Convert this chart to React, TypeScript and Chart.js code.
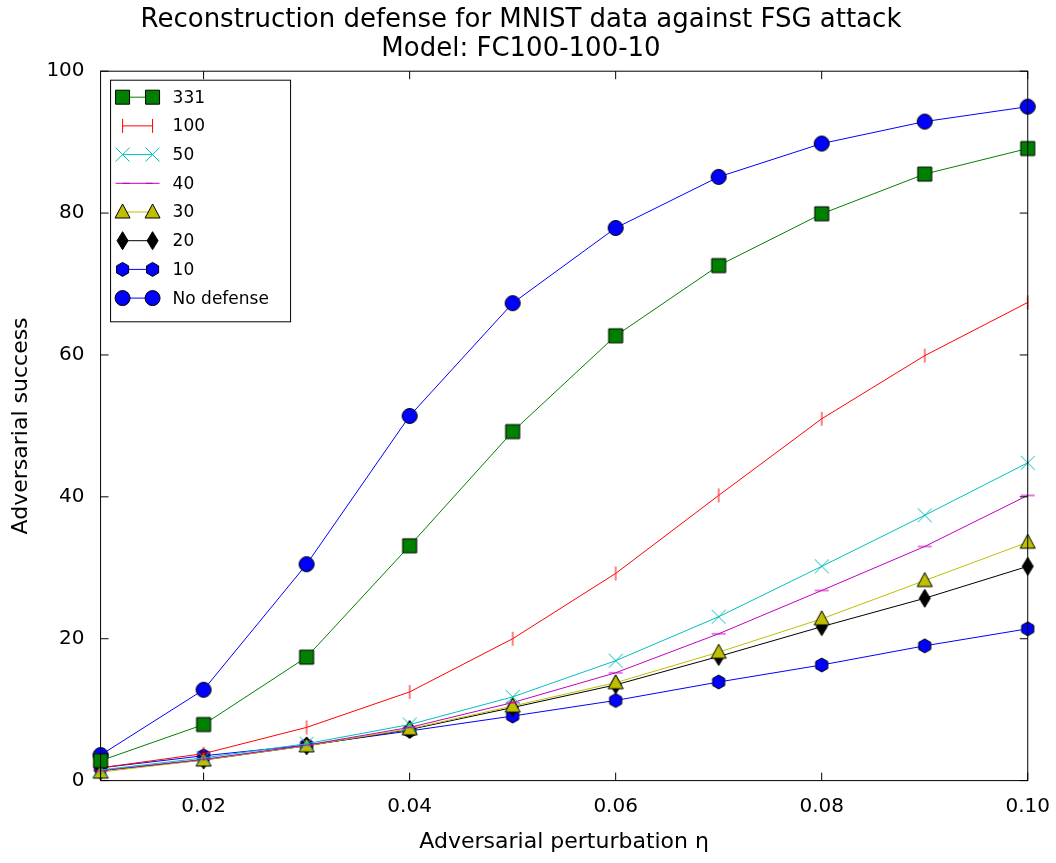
import React, { useEffect, useRef } from "react";
import { Chart, registerables } from "chart.js";
Chart.register(...registerables);

const etas = [0.01, 0.02, 0.03, 0.04, 0.05, 0.06, 0.07, 0.08, 0.09, 0.10];
const xTicks = [0.02, 0.04, 0.06, 0.08, 0.10];
const yTicks = [0, 20, 40, 60, 80, 100];
const s331 = [2.8, 7.9, 17.4, 33.1, 49.2, 62.7, 72.6, 79.9, 85.5, 89.1];
const s100 = [1.8, 3.8, 7.5, 12.5, 20.0, 29.2, 40.2, 51.0, 59.9, 67.4];
const s50 = [1.5, 3.2, 5.2, 7.9, 11.8, 16.9, 23.1, 30.2, 37.4, 44.8];
const s40 = [1.4, 3.0, 5.0, 7.5, 11.0, 15.2, 20.7, 26.8, 33.0, 40.2];
const s30 = [1.2, 2.9, 4.9, 7.3, 10.5, 13.8, 18.1, 22.8, 28.2, 33.6];
const s20 = [1.4, 2.9, 4.9, 7.2, 10.3, 13.5, 17.5, 21.7, 25.7, 30.2];
const s10 = [1.8, 3.5, 5.0, 7.0, 9.1, 11.3, 13.9, 16.3, 19.0, 21.4];
const sNo = [3.6, 12.8, 30.5, 51.4, 67.3, 77.9, 85.1, 89.8, 92.9, 95.0];

const series = [
  { label: "331", data: s331, color: "#008000", marker: "square" },
  { label: "100", data: s100, color: "#ff0000", marker: "vline" },
  { label: "50", data: s50, color: "#00bfbf", marker: "x" },
  { label: "40", data: s40, color: "#bf00bf", marker: "hline" },
  { label: "30", data: s30, color: "#bfbf00", marker: "triangle" },
  { label: "20", data: s20, color: "#000000", marker: "diamond" },
  { label: "10", data: s10, color: "#0000ff", marker: "hexagon" },
  { label: "No defense", data: sNo, color: "#0000ff", marker: "circle" },
];

function drawMarker(ctx: CanvasRenderingContext2D, kind: string, x: number, y: number, color: string) {
  ctx.save();
  ctx.fillStyle = color;
  ctx.strokeStyle = "#000";
  ctx.lineWidth = 1;
  ctx.beginPath();
  if (kind === "square") {
    ctx.rect(x - 7, y - 7, 14, 14); ctx.fill(); ctx.stroke();
  } else if (kind === "circle") {
    ctx.arc(x, y, 7.5, 0, Math.PI * 2); ctx.fill(); ctx.stroke();
  } else if (kind === "triangle") {
    ctx.moveTo(x, y - 8); ctx.lineTo(x + 7.5, y + 6); ctx.lineTo(x - 7.5, y + 6); ctx.closePath(); ctx.fill(); ctx.stroke();
  } else if (kind === "diamond") {
    ctx.moveTo(x, y - 9); ctx.lineTo(x + 5.5, y); ctx.lineTo(x, y + 9); ctx.lineTo(x - 5.5, y); ctx.closePath(); ctx.fill(); ctx.stroke();
  } else if (kind === "hexagon") {
    for (let i = 0; i < 6; i++) {
      const a = Math.PI / 6 + (i * Math.PI) / 3;
      const px = x + 7 * Math.cos(a), py = y + 7 * Math.sin(a);
      if (i === 0) ctx.moveTo(px, py); else ctx.lineTo(px, py);
    }
    ctx.closePath(); ctx.fill(); ctx.stroke();
  } else if (kind === "x") {
    ctx.strokeStyle = color;
    ctx.moveTo(x - 7, y - 7); ctx.lineTo(x + 7, y + 7); ctx.moveTo(x + 7, y - 7); ctx.lineTo(x - 7, y + 7); ctx.stroke();
  } else if (kind === "vline") {
    ctx.strokeStyle = color;
    ctx.moveTo(x, y - 7); ctx.lineTo(x, y + 7); ctx.stroke();
  } else if (kind === "hline") {
    ctx.strokeStyle = color;
    ctx.moveTo(x - 7, y); ctx.lineTo(x + 7, y); ctx.stroke();
  }
  ctx.restore();
}

function markerCanvas(kind: string, color: string) {
  const c = document.createElement("canvas");
  c.width = 22; c.height = 22;
  const ctx = c.getContext("2d")!;
  drawMarker(ctx, kind, 11, 11, color);
  return c;
}

const framePlugin = {
  id: "frame",
  afterDatasetsDraw(chart: any) {
    const { ctx, chartArea: a, scales } = chart;
    ctx.save();
    ctx.strokeStyle = "#000";
    ctx.lineWidth = 1;
    ctx.strokeRect(a.left, a.top, a.right - a.left, a.bottom - a.top);
    ctx.beginPath();
    for (const t of [0.01, 0.02, 0.03, 0.04, 0.05, 0.06, 0.07, 0.08, 0.09, 0.1]) {
      const px = scales.x.getPixelForValue(t);
      const len = xTicks.some((v) => Math.abs(v - t) < 1e-9) ? 8 : 0;
      if (!len) continue;
      ctx.moveTo(px, a.bottom); ctx.lineTo(px, a.bottom - len);
      ctx.moveTo(px, a.top); ctx.lineTo(px, a.top + len);
    }
    for (const v of yTicks) {
      const py = scales.y.getPixelForValue(v);
      ctx.moveTo(a.left, py); ctx.lineTo(a.left + 8, py);
      ctx.moveTo(a.right, py); ctx.lineTo(a.right - 8, py);
    }
    ctx.stroke();
    // legend
    const lx = a.left + 10, ly = a.top + 9, w = 180, rowH = 28.7, h = rowH * series.length + 12;
    ctx.fillStyle = "#fff";
    ctx.fillRect(lx, ly, w, h);
    ctx.strokeRect(lx, ly, w, h);
    ctx.font = "17px 'DejaVu Sans'";
    ctx.textBaseline = "middle";
    series.forEach((s, i) => {
      const y = ly + 17 + i * rowH;
      ctx.strokeStyle = s.color;
      ctx.beginPath(); ctx.moveTo(lx + 12, y); ctx.lineTo(lx + 42, y); ctx.stroke();
      drawMarker(ctx, s.marker, lx + 12, y, s.color);
      drawMarker(ctx, s.marker, lx + 42, y, s.color);
      ctx.fillStyle = "#000";
      ctx.fillText(s.label, lx + 62, y + 1);
    });
    ctx.restore();
  },
};

export default function App() {
  const ref = useRef<HTMLCanvasElement>(null);
  useEffect(() => {
    const chart = new Chart(ref.current!, {
      type: "line",
      data: {
        datasets: series.map((s) => ({
          label: s.label,
          data: s.data.map((v, i) => ({ x: etas[i], y: v })),
          borderColor: s.color,
          borderWidth: 1,
          pointStyle: markerCanvas(s.marker, s.color) as any,
          pointRadius: 8,
          tension: 0,
          clip: false as any,
        })),
      },
      options: {
        animation: false,
        responsive: false,
        layout: { padding: { top: 0, right: 18, left: 4, bottom: 4 } },
        plugins: {
          legend: { display: false },
          tooltip: { enabled: false },
          title: {
            display: true,
            text: ["Reconstruction defense for MNIST data against FSG attack", "Model: FC100-100-10"],
            font: { family: "'DejaVu Sans'", size: 26, weight: "normal" as any, lineHeight: 1.1 },
            color: "#000",
            padding: { top: 6, bottom: 8 },
          },
        },
        scales: {
          x: {
            type: "linear",
            min: 0.01,
            max: 0.1,
            afterBuildTicks: (ax: any) => { ax.ticks = xTicks.map((v) => ({ value: v })); },
            ticks: { color: "#000", font: { family: "'DejaVu Sans'", size: 20 }, padding: 6, callback: (v: any) => Number(v).toFixed(2), maxRotation: 0 },
            grid: { display: false },
            border: { display: false },
            title: { display: true, text: "Adversarial perturbation η", color: "#000", font: { family: "'DejaVu Sans'", size: 22 } },
          },
          y: {
            min: 0,
            max: 100,
            afterBuildTicks: (ax: any) => { ax.ticks = yTicks.map((v) => ({ value: v })); },
            ticks: { color: "#000", font: { family: "'DejaVu Sans'", size: 20 }, padding: 8 },
            grid: { display: false },
            border: { display: false },
            title: { display: true, text: "Adversarial success", color: "#000", font: { family: "'DejaVu Sans'", size: 22 } },
          },
        },
      },
      plugins: [framePlugin],
    });
    return () => chart.destroy();
  }, []);
  return (
    <div style={{ position: "absolute", left: 0, top: 0, width: 1056, height: 863 }}>
      <canvas ref={ref} width={1056} height={863} />
    </div>
  );
}
